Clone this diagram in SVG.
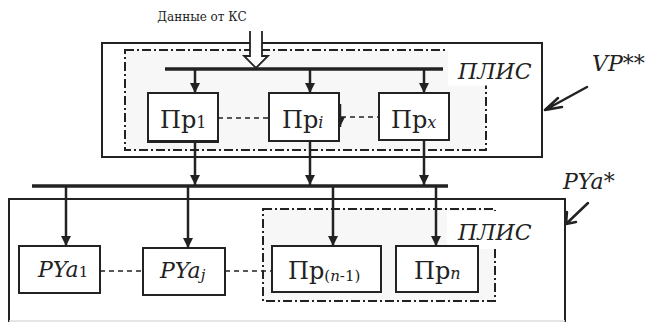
<svg xmlns="http://www.w3.org/2000/svg" width="651" height="323" viewBox="0 0 651 323">
<defs>
<marker id="ah" viewBox="0 0 10 10" refX="10" refY="5" markerWidth="4.4" markerHeight="4" orient="auto" markerUnits="strokeWidth">
<path d="M0,0 L10,5 L0,10 z" fill="#222"/>
</marker>
</defs>
<style>
.box{fill:#fff;stroke:#222;stroke-width:2}
.dd{fill:#f7f7f7;stroke:#222;stroke-width:2;stroke-dasharray:9 3 2 3}
.dash{stroke:#222;stroke-width:1.6;stroke-dasharray:5 4;fill:none}
.bus{stroke:#222;stroke-width:3.5}
.arr{stroke:#222;stroke-width:2.5;fill:none;marker-end:url(#ah)}
text{font-family:"DejaVu Serif","Liberation Serif",serif;fill:#222}
.it{font-style:italic}
.ptr{stroke:#222;stroke-width:2.5;fill:none;stroke-linecap:round}
</style>
<rect width="651" height="323" fill="#fff"/>
<text x="202" y="21" font-size="12" text-anchor="middle">Данные от КС</text>

<g id="upper-block">
<rect x="102" y="43" width="440" height="114" fill="#fff" stroke="#222" stroke-width="2"/>
<rect class="dd" x="125" y="50" width="361" height="100"/>
<rect x="448" y="44.5" width="92" height="41" fill="#fff"/>
<text class="it" x="458" y="79" font-size="22">ПЛИС</text>
</g>

<g id="lower-block">
<path d="M9,322 V199 H565 V322" fill="#fff" stroke="#222" stroke-width="2"/>
<line x1="9" y1="321" x2="565" y2="321" stroke="#ddd" stroke-width="1.5"/>
<rect class="dd" x="263" y="209" width="232" height="92"/>
<rect x="447" y="211" width="60" height="38" fill="#fff"/>
<text class="it" x="458" y="240" font-size="22">ПЛИС</text>
</g>

<g id="connectors">
<line class="bus" x1="165" y1="69" x2="443" y2="69"/>
<line class="bus" x1="32" y1="186" x2="448" y2="186"/>
<polygon points="250,31 250,56 244,56 256,68 268,56 262,56 262,31" fill="#fff"/>
<path d="M250,31 V56 H244 L256,68 L268,56 H262 V31" fill="none" stroke="#222" stroke-width="1.8"/>
<line class="arr" x1="195" y1="70" x2="195" y2="93"/>
<line class="arr" x1="310" y1="70" x2="310" y2="93"/>
<line class="arr" x1="424" y1="70" x2="424" y2="93"/>
<line class="arr" x1="195" y1="142" x2="195" y2="185"/>
<line class="arr" x1="310" y1="141" x2="310" y2="185"/>
<line class="arr" x1="424" y1="141" x2="424" y2="185"/>
<line class="arr" x1="66" y1="187" x2="66" y2="246"/>
<line class="arr" x1="188" y1="187" x2="188" y2="248"/>
<line class="arr" x1="333" y1="187" x2="333" y2="246"/>
<line class="arr" x1="436" y1="187" x2="436" y2="246"/>
<line class="arr" x1="340" y1="104" x2="340" y2="127"/>
<line class="dash" x1="218" y1="118" x2="269" y2="118"/>
<line class="dash" x1="341" y1="117" x2="379" y2="117"/>
<line class="dash" x1="100" y1="271" x2="143" y2="271"/>
<line class="dash" x1="225" y1="271" x2="272" y2="271"/>
<path class="ptr" d="M587,87 L545,110 M545,110 L558,98 M545,110 L562,107"/>
<path class="ptr" d="M588,203 L566,224 M566,224 L567,212 M566,224 L576,222"/>
</g>

<g id="pr1">
<rect class="box" x="148" y="93" width="70" height="49"/>
<line x1="148" y1="141.5" x2="218" y2="141.5" stroke="#222" stroke-width="3"/>
<text x="160" y="128" font-size="24">Пр<tspan font-size="16">1</tspan></text>
</g>
<g id="pri">
<rect class="box" x="269" y="93" width="70" height="48"/>
<text x="282" y="128" font-size="24">Пр<tspan font-size="16" font-style="italic">i</tspan></text>
</g>
<g id="prx">
<rect class="box" x="379" y="93" width="70" height="47"/>
<text x="391" y="128" font-size="24">Пр<tspan font-size="16" font-style="italic">x</tspan></text>
</g>
<g id="pya1">
<rect class="box" x="19" y="246" width="81" height="47"/>
<text x="38" y="277" font-size="22"><tspan font-style="italic">PYa</tspan><tspan font-size="15">1</tspan></text>
</g>
<g id="pyaj">
<rect class="box" x="143" y="248" width="82" height="47"/>
<text x="160" y="278" font-size="22"><tspan font-style="italic">PYa</tspan><tspan font-size="15" font-style="italic" dy="2">j</tspan></text>
</g>
<g id="prn1">
<rect class="box" x="272" y="246" width="109" height="46"/>
<text x="288" y="279" font-size="24">Пр<tspan font-size="15" dy="2">(<tspan font-style="italic">n</tspan>-1)</tspan></text>
</g>
<g id="prn">
<rect class="box" x="396" y="246" width="82" height="46"/>
<text x="414" y="279" font-size="24">Пр<tspan font-size="16" font-style="italic">n</tspan></text>
</g>
<g id="labels">
<text class="it" x="592" y="71" font-size="22">VP**</text>
<text class="it" x="563" y="189" font-size="22">PYa*</text>
</g>
</svg>
